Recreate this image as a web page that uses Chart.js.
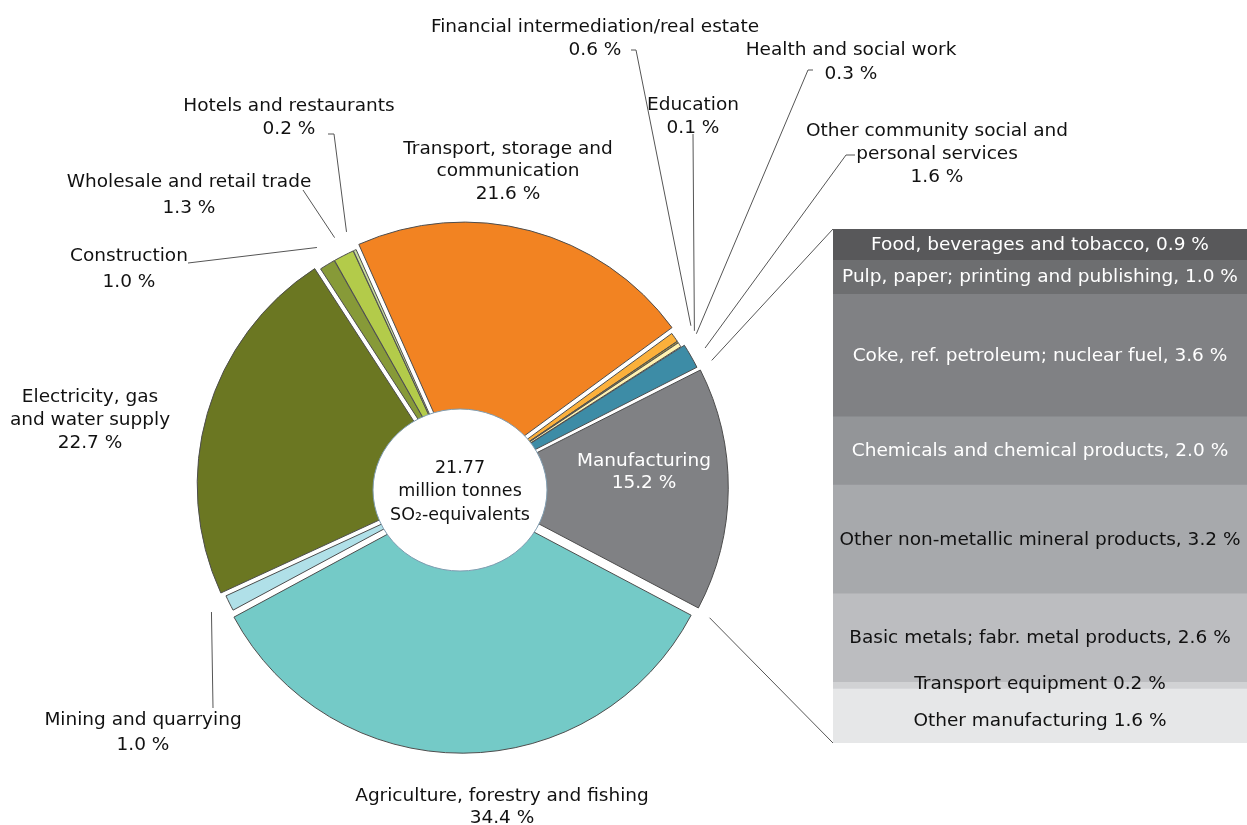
<!DOCTYPE html>
<html>
<head>
<meta charset="utf-8">
<script src="https://cdn.jsdelivr.net/npm/chart.js@4.4.1/dist/chart.umd.min.js"></script>
<style>
  body { margin: 0; background: #fff; }
  #wrap { position: relative; width: 1247px; height: 825px; }
  #pie { position: absolute; left: 0; top: 0; }
  #bar { position: absolute; left: 833px; top: 229px; }
</style>
</head>
<body>
<div id="wrap">
  <canvas id="pie" width="1247" height="825"></canvas>
  <canvas id="bar" width="414" height="514"></canvas>
</div>
<script>
// sectors, clockwise from the start of the transport slice
const sectors = [
  'Transport, storage and\ncommunication',
  'Financial intermediation/real estate',
  'Education',
  'Health and social work',
  'Other community social and\npersonal services',
  'Manufacturing',
  'Agriculture, forestry and fishing',
  'Mining and quarrying',
  'Electricity, gas\nand water supply',
  'Construction',
  'Wholesale and retail trade',
  'Hotels and restaurants'
];
const sectorShares = [21.6, 0.6, 0.1, 0.3, 1.6, 15.2, 34.4, 1.0, 22.7, 1.0, 1.3, 0.2];
const sectorColors = ['#f28322', '#fbb03b', '#e8c31a', '#fff2b0', '#3d8ca6', '#808184',
                      '#74cac7', '#b0e0e8', '#6b7722', '#879a38', '#b3cb4a', '#c9dc9c'];
// how far each slice is pulled out (chart.js moves a slice by offset / 4)
const sliceOffsets = [28, 4, 4, 4, 12, 28, 28, 4, 28, 4, 4, 4];

// manufacturing breakdown, top to bottom
const manufacturing = [
  'Food, beverages and tobacco',
  'Pulp, paper; printing and publishing',
  'Coke, ref. petroleum; nuclear fuel',
  'Chemicals and chemical products',
  'Other non-metallic mineral products',
  'Basic metals; fabr. metal products',
  'Transport equipment',
  'Other manufacturing'
];
const manufacturingShares = [0.9, 1.0, 3.6, 2.0, 3.2, 2.6, 0.2, 1.6];
const manufacturingColors = ['#58585a', '#6d6e70', '#808184', '#939598',
                             '#a7a9ac', '#bcbdc0', '#d1d2d4', '#e6e7e8'];
const manufacturingText = ['#fff', '#fff', '#fff', '#fff', '#111', '#111', '#111', '#111'];
const manufacturingNudge = [0, 0, 0, 0, 0, 0, -2, 4];

const totalLines = ['21.77', 'million tonnes', 'SO\u2082-equivalents'];

// label placement (centre x, first line y) and leader line from the label
const labelLayout = [
  { x: 508, y: 149, lh: 22.5 },
  { x: 595, y: 27, lh: 23, lead: [[631, 50], [636, 50]] },
  { x: 693, y: 105, lh: 23, lead: [[693, 134]] },
  { x: 851, y: 50, lh: 24, lead: [[813, 70], [808, 70]] },
  { x: 937, y: 131, lh: 23, lead: [[855, 155], [846, 155]] },
  { x: 644, y: 461, lh: 22, color: '#fff' },
  { x: 502, y: 796, lh: 22 },
  { x: 143, y: 720, lh: 25, lead: [[213, 708]] },
  { x: 90, y: 397, lh: 23 },
  { x: 129, y: 256, lh: 26, lead: [[188, 263]] },
  { x: 189, y: 182, lh: 26, lead: [[303, 190]] },
  { x: 289, y: 106, lh: 23, lead: [[328, 134], [334, 134]] }
];

const FONT = '18.5px "DejaVu Sans", Verdana, sans-serif';
const fmt = v => v.toFixed(1) + ' %';

const barLabels = {
  id: 'barLabels',
  afterDatasetsDraw(chart) {
    const ctx = chart.ctx;
    ctx.save();
    ctx.font = FONT;
    ctx.textAlign = 'center';
    ctx.textBaseline = 'middle';
    chart.data.datasets.forEach((ds, i) => {
      const el = chart.getDatasetMeta(i).data[0];
      const sep = i < 6 ? ', ' : ' ';
      ctx.fillStyle = manufacturingText[i];
      ctx.fillText(manufacturing[i] + sep + fmt(manufacturingShares[i]),
                   el.x, (el.y + el.base) / 2 + 1 + manufacturingNudge[i]);
    });
    ctx.restore();
  }
};

const barChart = new Chart(document.getElementById('bar'), {
  type: 'bar',
  data: {
    labels: ['Manufacturing'],
    datasets: manufacturing.map((name, i) => ({
      label: name,
      data: [manufacturingShares[i]],
      backgroundColor: manufacturingColors[i],
      borderWidth: 0,
      barPercentage: 1,
      categoryPercentage: 1
    }))
  },
  options: {
    responsive: false,
    animation: false,
    layout: { padding: 0 },
    plugins: { legend: { display: false }, tooltip: { enabled: false } },
    scales: {
      x: { stacked: true, display: false },
      y: { stacked: true, display: false, reverse: true, min: 0,
           max: manufacturingShares.reduce((a, b) => a + b, 0) }
    }
  },
  plugins: [barLabels]
});

const pieDecor = {
  id: 'pieDecor',
  afterDatasetsDraw(chart) {
    const ctx = chart.ctx;
    const arcs = chart.getDatasetMeta(0).data;
    const cx = arcs[0].x, cy = arcs[0].y, r = arcs[0].outerRadius;
    const rim = r + 22;
    const at = a => [cx + Math.cos(a) * rim, cy + Math.sin(a) * rim];

    ctx.save();
    // hole
    ctx.beginPath();
    ctx.ellipse(cx - 2, cy + 3, 87, 81, 0, 0, Math.PI * 2);
    ctx.fillStyle = '#fff';
    ctx.fill();
    ctx.strokeStyle = '#7f9cb0';
    ctx.lineWidth = 1;
    ctx.stroke();

    ctx.font = '17.5px "DejaVu Sans", Verdana, sans-serif';
    ctx.fillStyle = '#111';
    ctx.textAlign = 'center';
    ctx.textBaseline = 'middle';
    totalLines.forEach((t, i) => ctx.fillText(t, cx - 2, cy - 19 + i * 23.5));

    // leader lines
    ctx.strokeStyle = '#555';
    ctx.lineWidth = 1;
    arcs.forEach((el, i) => {
      const lay = labelLayout[i];
      if (!lay.lead) return;
      const p = at((el.startAngle + el.endAngle) / 2);
      ctx.beginPath();
      ctx.moveTo(lay.lead[0][0], lay.lead[0][1]);
      lay.lead.slice(1).forEach(q => ctx.lineTo(q[0], q[1]));
      ctx.lineTo(p[0], p[1]);
      ctx.stroke();
    });

    // connectors from manufacturing slice to the breakdown bar
    const manu = arcs[5];
    const first = barChart.getDatasetMeta(0).data[0];
    const last = barChart.getDatasetMeta(manufacturing.length - 1).data[0];
    const box = barChart.canvas;
    const left = box.offsetLeft + first.x - first.width / 2;
    const s = at(manu.startAngle), e = at(manu.endAngle);
    ctx.beginPath();
    ctx.moveTo(s[0], s[1]);
    ctx.lineTo(left, box.offsetTop + first.base);
    ctx.moveTo(e[0], e[1]);
    ctx.lineTo(left, box.offsetTop + last.y);
    ctx.stroke();

    // labels
    ctx.font = FONT;
    arcs.forEach((el, i) => {
      const lay = labelLayout[i];
      const lines = sectors[i].split('\n').concat(fmt(sectorShares[i]));
      ctx.fillStyle = lay.color || '#111';
      lines.forEach((t, k) => ctx.fillText(t, lay.x, lay.y + k * lay.lh));
    });
    ctx.restore();
  }
};

new Chart(document.getElementById('pie'), {
  type: 'pie',
  data: {
    labels: sectors,
    datasets: [{
      data: sectorShares,
      backgroundColor: sectorColors,
      borderColor: '#4d4d4d',
      borderWidth: 1,
      offset: sliceOffsets
    }]
  },
  options: {
    responsive: false,
    animation: false,
    rotation: -24,
    radius: 258,
    layout: { padding: { left: 197, right: 520, top: 222, bottom: 73 } },
    plugins: { legend: { display: false }, tooltip: { enabled: false } }
  },
  plugins: [pieDecor]
});
</script>
</body>
</html>
